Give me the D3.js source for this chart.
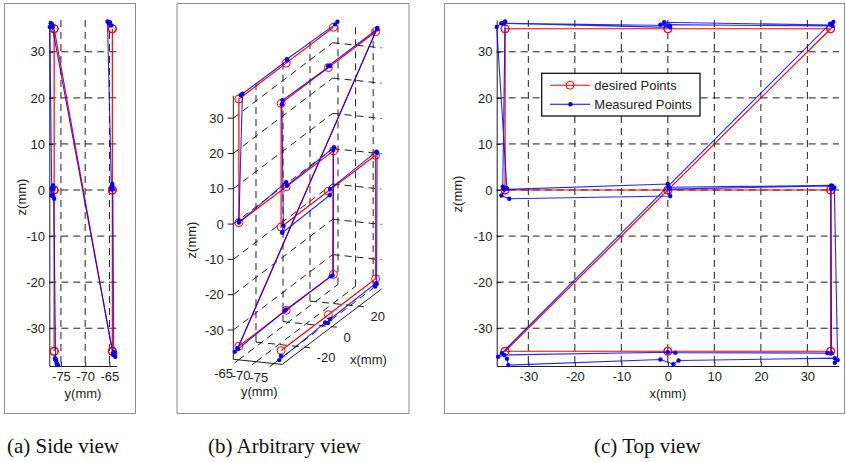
<!DOCTYPE html>
<html>
<head>
<meta charset="utf-8">
<script src="https://cdnjs.cloudflare.com/ajax/libs/d3/7.8.5/d3.min.js"></script>
<style>
  body { margin: 0; background: #fff; }
  text { font-family: "Liberation Sans", Arial, sans-serif; }
</style>
</head>
<body>
<svg id="fig" width="846" height="462"></svg>
<script>
// desired trajectory (two planes, same "S" shape, joined by a diagonal)
var desiredX = [35, 0, -35, -35, 0, 35, 35, 0, -35, 35, 0, -35, -35, 0, 35, 35, 0, -35];
var desiredY = [-64.4, -64.4, -64.4, -64.4, -64.4, -64.4, -64.4, -64.4, -64.4,
                -76.4, -76.4, -76.4, -76.4, -76.4, -76.4, -76.4, -76.4, -76.4];
var desiredZ = [35, 35, 35, 0, 0, 0, -35, -35, -35, 35, 35, 35, 0, 0, 0, -35, -35, -35];

// measured points
var measuredX = [35.6, 35.2, -0.8, 0.4, -35.3, -35.0, -35.5, -35.2, 0.0, 0.3, 35.4, 35.1,
                 35.2, 34.3, 1.6, 0.0, -35.2, -36.5, -35.7,
                 34.9, 35.4, -1.6, 0.5, -35.8, -36.8, -34.6, -35.8, -34.1, 0.5, 0.2, 35.1, 35.8,
                 36.5, 35.9, 35.9, 2.3, 1.2, -1.6, -34.3, -34.6];
var measuredY = [-65.3, -64.8, -64.9, -64.6, -65.0, -65.4, -64.6, -64.5, -64.4, -64.5, -64.4, -64.3,
                 -64.1, -63.9, -63.8, -64.0, -64.2, -63.8, -64.3,
                 -76.9, -76.7, -76.9, -76.7, -77.1, -77.3, -76.9, -77.0, -76.4, -76.6, -76.8, -76.6, -76.5,
                 -76.1, -75.9, -76.2, -76.0, -75.8, -76.1, -75.6, -76.2];
var measuredZ = [36.5, 35.8, 36.4, 35.7, 36.2, 36.6, 0.7, 0.1, 1.3, 0.2, 0.9, 0.2,
                 -35.4, -35.4, -35.3, -35.2, -35.8, -36.2, -35.4,
                 36.1, 35.6, 35.9, 35.3, 36.2, 35.4, 0.3, -1.2, -1.9, -1.3, 0.6, 1.0, 0.5,
                 -36.9, -37.5, -36.5, -37.0, -37.8, -36.8, -38.0, -36.6];

var xTicks = [-30, -20, -10, 0, 10, 20, 30];
var yTicks = [-75, -70, -65];
var zTicks = [-30, -20, -10, 0, 10, 20, 30];
var xTicks3d = [-20, 0, 20];
var yTicks3d = [-65, -70, -75];
var legendLabels = ["desired Points", "Measured Points"];
var captions = ["(a) Side view", "(b) Arbitrary view", "(c) Top view"];

// axis limits
var xLim = [-36.8, 36.8];
var yLim = [-77.4, -63.5];
var zLim = [-38.2, 36.9];
var zLim3 = [-38.3, 36.3];

var svg = d3.select("#fig");
var ink = "#1e1e1e";
var dash = "7,5";
var red = "#ff0000", blue = "#0000ff";

var desired = desiredX.map(function(d, i) { return {x: d, y: desiredY[i], z: desiredZ[i]}; });
var measured = measuredX.map(function(d, i) { return {x: d, y: measuredY[i], z: measuredZ[i]}; });

// panel frames
[[4, 3, 131, 410], [176.5, 3, 232, 410], [444, 3, 400, 410]].forEach(function(r) {
  svg.append("rect").attr("x", r[0] + 0.5).attr("y", r[1] + 0.5)
    .attr("width", r[2]).attr("height", r[3])
    .attr("fill", "none").attr("stroke", "#8c8c8c").attr("stroke-width", 1);
});

// draw the two trajectories with a pair of scales
function drawPaths(g, fx, fy) {
  var line = d3.line().x(fx).y(fy);
  g.append("path").datum(desired).attr("d", line)
    .attr("fill", "none").attr("stroke", red).attr("stroke-width", 1.2);
  g.selectAll(".des").data(desired).enter().append("circle")
    .attr("cx", fx).attr("cy", fy).attr("r", 4)
    .attr("fill", "none").attr("stroke", red).attr("stroke-width", 1);
  g.append("path").datum(measured).attr("d", line)
    .attr("fill", "none").attr("stroke", blue).attr("stroke-width", 1.1).attr("opacity", 0.85);
  g.selectAll(".mea").data(measured).enter().append("circle")
    .attr("cx", fx).attr("cy", fy).attr("r", 2.2).attr("fill", blue);
}

// 2D panel: horizontal scale h (data field hk), vertical scale zScale
function panel2d(h, hk, hTicks, zScale, hLabel, labelZx, labelZy) {
  var g = svg.append("g");
  var x0 = h.range()[0], x1 = h.range()[1];
  var y0 = zScale.range()[1], y1 = zScale.range()[0];

  hTicks.forEach(function(t) {
    g.append("line").attr("x1", h(t)).attr("x2", h(t)).attr("y1", y0).attr("y2", y1)
      .attr("stroke", ink).attr("stroke-dasharray", dash);
  });
  zTicks.forEach(function(t) {
    g.append("line").attr("x1", x0).attr("x2", x1).attr("y1", zScale(t)).attr("y2", zScale(t))
      .attr("stroke", ink).attr("stroke-dasharray", dash);
  });

  var ax = g.append("g").attr("transform", "translate(0," + y1 + ")")
    .call(d3.axisBottom(h).tickValues(hTicks).tickSizeInner(-4).tickSizeOuter(0)
      .tickPadding(5.8).tickFormat(function(d) { return String(d); }));
  var az = g.append("g").attr("transform", "translate(" + x0 + ",0)")
    .call(d3.axisLeft(zScale).tickValues(zTicks).tickSizeInner(-4).tickSizeOuter(0)
      .tickPadding(4.3).tickFormat(function(d) { return String(d); }));
  [ax, az].forEach(function(a) {
    a.attr("color", ink).attr("font-size", 13).attr("font-family", "Liberation Sans, Arial, sans-serif");
  });

  drawPaths(g, function(d) { return h(d[hk]); }, function(d) { return zScale(d.z); });

  g.append("text").attr("x", (x0 + x1) / 2).attr("y", 397.5).attr("text-anchor", "middle")
    .attr("font-size", 13).attr("fill", ink).text(hLabel);
  g.append("text").attr("transform", "translate(" + labelZx + "," + labelZy + ") rotate(-90)")
    .attr("text-anchor", "middle").attr("font-size", 13).attr("fill", ink).text("z(mm)");
  return g;
}

// (a) side view
var sideY = d3.scaleLinear().domain(yLim).range([49.3, 116.7]);
var sideZ = d3.scaleLinear().domain(zLim).range([366, 20]);
panel2d(sideY, "y", yTicks, sideZ, "y(mm)", 26, 197);

// (c) top view
var topX = d3.scaleLinear().domain(xLim).range([496.7, 839]);
var topZ = d3.scaleLinear().domain(zLim).range([366, 20]);
var gTop = panel2d(topX, "x", xTicks, topZ, "x(mm)", 462, 194);

// legend
var lg = gTop.append("g");
lg.append("rect").attr("x", 541.7).attr("y", 73.3).attr("width", 158.3).attr("height", 42.7)
  .attr("fill", "#fff").attr("stroke", "#111").attr("stroke-width", 1.3);
legendLabels.forEach(function(lab, i) {
  var yy = i === 0 ? 85.2 : 104.3;
  var c = i === 0 ? red : blue;
  lg.append("line").attr("x1", 550).attr("x2", 590).attr("y1", yy).attr("y2", yy)
    .attr("stroke", c).attr("stroke-width", 1.1);
  if (i === 0) {
    lg.append("circle").attr("cx", 570).attr("cy", yy).attr("r", 4)
      .attr("fill", "none").attr("stroke", c);
  } else {
    lg.append("circle").attr("cx", 570.5).attr("cy", yy).attr("r", 2.2).attr("fill", c);
  }
  lg.append("text").attr("x", 594.3).attr("y", yy).attr("dy", "0.36em")
    .attr("font-size", 13).attr("fill", ink).text(lab);
});

// (b) arbitrary view: orthographic projection of the box
var u3 = d3.scaleLinear().domain(xLim).range([0, 1]);
var v3 = d3.scaleLinear().domain([yLim[1], yLim[0]]).range([0, 1]);
var w3 = d3.scaleLinear().domain(zLim3).range([0, 1]);
var O3 = [233.3, 359.3], EX = [99.4, -75.4], EY = [48.9, 5.1], EZ = [0, -263.4];
function p3(x, y, z) {
  var u = u3(x), v = v3(y), w = w3(z);
  return [O3[0] + u * EX[0] + v * EY[0] + w * EZ[0],
          O3[1] + u * EX[1] + v * EY[1] + w * EZ[1]];
}
var g3 = svg.append("g");
function seg(a, b, dashed) {
  g3.append("line").attr("x1", a[0]).attr("y1", a[1]).attr("x2", b[0]).attr("y2", b[1])
    .attr("stroke", ink).attr("stroke-width", 1)
    .attr("stroke-dasharray", dashed ? dash : null);
}
var xmin = xLim[0], xmax = xLim[1], ymin = yLim[0], ymax = yLim[1], zmin = zLim3[0], zmax = zLim3[1];

// grid on back walls and floor
xTicks3d.forEach(function(t) {
  seg(p3(t, ymax, zmin), p3(t, ymax, zmax), true);
  seg(p3(t, ymax, zmin), p3(t, ymin, zmin), true);
});
yTicks3d.forEach(function(t) {
  seg(p3(xmax, t, zmin), p3(xmax, t, zmax), true);
  seg(p3(xmin, t, zmin), p3(xmax, t, zmin), true);
});
zTicks.forEach(function(t) {
  seg(p3(xmin, ymax, t), p3(xmax, ymax, t), true);
  seg(p3(xmax, ymax, t), p3(xmax, ymin, t), true);
});

// axes lines
seg(p3(xmin, ymax, zmin), p3(xmin, ymax, zmax), false);
seg(p3(xmin, ymax, zmin), p3(xmin, ymin, zmin), false);
seg(p3(xmin, ymin, zmin), p3(xmax, ymin, zmin), false);

// z ticks + labels
zTicks.forEach(function(t) {
  var p = p3(xmin, ymax, t);
  seg([p[0] - 5.6, p[1]], p, false);
  g3.append("text").attr("x", p[0] - 9.5).attr("y", p[1]).attr("dy", "0.36em")
    .attr("text-anchor", "end").attr("font-size", 13).attr("fill", ink).text(String(t));
});
// y ticks + labels
var exLen = Math.hypot(EX[0], EX[1]);
yTicks3d.forEach(function(t) {
  var p = p3(xmin, t, zmin);
  seg(p, [p[0] - 5 * EX[0] / exLen, p[1] - 5 * EX[1] / exLen], false);
  g3.append("text").attr("x", p[0] - 15).attr("y", p[1] + 18.5)
    .attr("text-anchor", "middle").attr("font-size", 13).attr("fill", ink).text(String(t));
});
// x ticks + labels
var eyLen = Math.hypot(EY[0], EY[1]);
xTicks3d.forEach(function(t) {
  var p = p3(t, ymin, zmin);
  seg(p, [p[0] + 5 * EY[0] / eyLen, p[1] + 5 * EY[1] / eyLen], false);
  g3.append("text").attr("x", p[0] + 11.7).attr("y", p[1] + 10.3).attr("dy", "0.36em")
    .attr("font-size", 13).attr("fill", ink).text(String(t));
});
g3.append("text").attr("x", 350).attr("y", 359.3).attr("dy", "0.36em")
  .attr("font-size", 13).attr("fill", ink).text("x(mm)");
g3.append("text").attr("x", 259.3).attr("y", 391.7).attr("dy", "0.36em").attr("text-anchor", "middle")
  .attr("font-size", 13).attr("fill", ink).text("y(mm)");
g3.append("text").attr("transform", "translate(196,240) rotate(-90)").attr("text-anchor", "middle")
  .attr("font-size", 13).attr("fill", ink).text("z(mm)");

drawPaths(g3, function(d) { return p3(d.x, d.y, d.z)[0]; }, function(d) { return p3(d.x, d.y, d.z)[1]; });

// captions
[7, 208, 594].forEach(function(x, i) {
  svg.append("text").attr("x", x).attr("y", 453)
    .style("font-family", "'Liberation Serif', 'Times New Roman', serif")
    .attr("font-size", 21).attr("fill", "#111").text(captions[i]);
});
</script>
</body>
</html>
